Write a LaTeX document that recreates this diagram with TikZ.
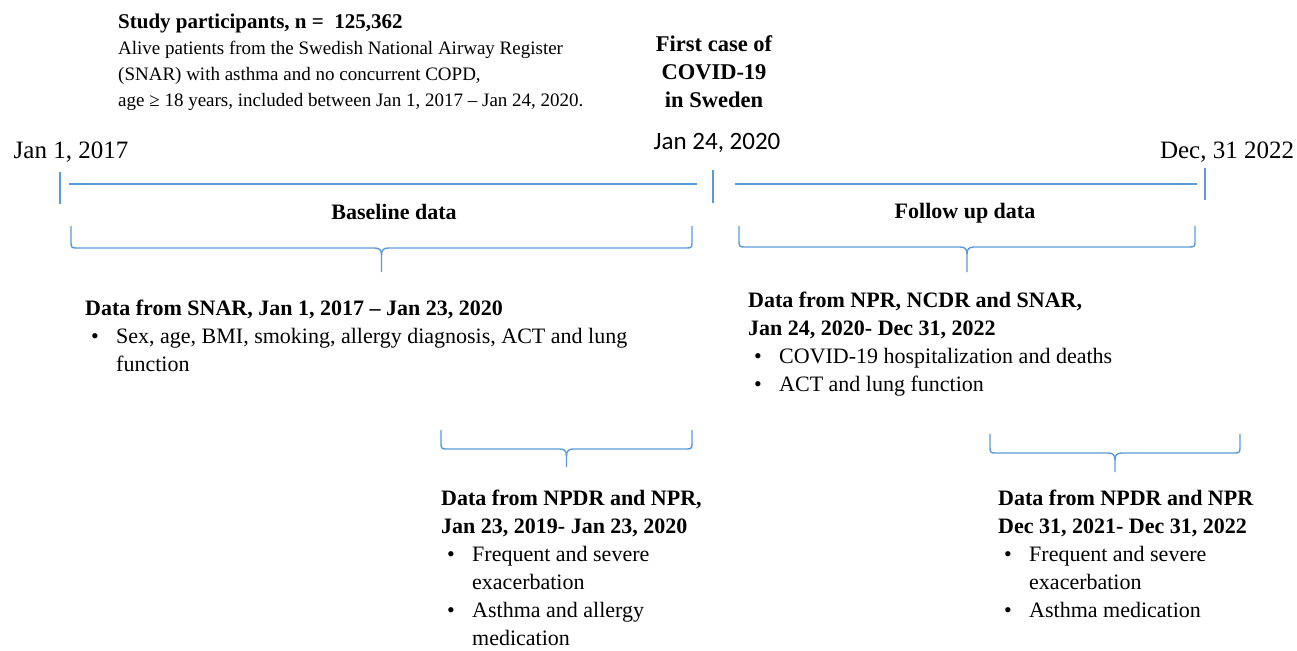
\documentclass[tikz,border=0pt]{standalone}
\usepackage{fontspec}
\setmainfont{Liberation Serif}
\newfontfamily\calibrifont{Carlito}
\usetikzlibrary{positioning}
\definecolor{lineblue}{RGB}{91,155,213}
% brace: left, right, top, bar, tip
\newcommand{\databrace}[5]{%
  \draw[brace] (#1,#3) -- (#1,#4-5) .. controls (#1,#4-1) and (#1+1,#4) .. (#1+5,#4)
    -- ({(#1+#2)/2-7},#4) .. controls ({(#1+#2)/2-2},#4) and ({(#1+#2)/2},#4+2) .. ({(#1+#2)/2},#4+7)
    -- ({(#1+#2)/2},#5);
  \draw[brace] (#2,#3) -- (#2,#4-5) .. controls (#2,#4-1) and (#2-1,#4) .. (#2-5,#4)
    -- ({(#1+#2)/2+7},#4) .. controls ({(#1+#2)/2+2},#4) and ({(#1+#2)/2},#4+2) .. ({(#1+#2)/2},#4+7);}
\newcommand{\itembul}{\hspace*{6pt}\makebox[25pt][l]{\textbullet}}
\newcommand{\itemcont}{\hspace*{31pt}}

\begin{document}
\begin{tikzpicture}[x=1pt,y=-1pt,
  brace/.style={draw=lineblue,line width=1.4pt},
  tick/.style={draw=lineblue,line width=1.4pt},
  txt/.style={anchor=north west,inner sep=0pt,align=left,font=\fontsize{22}{28}\selectfont},
  datelbl/.style={inner sep=0pt,font=\fontsize{25}{28}\selectfont},
  phase/.style={inner sep=0pt,font=\fontsize{22}{28}\selectfont\bfseries}]
  \useasboundingbox (0,0) rectangle (1297,650);

  % study population
  \node[anchor=north west,inner sep=0pt,font=\fontsize{21}{26}\selectfont\bfseries] (study) at (118,14)
    {Study participants, n =~~125,362};
  \node[anchor=north west,inner sep=0pt,align=left,font=\fontsize{19}{26}\selectfont] (studydesc) at (118,41)
    {Alive patients from the Swedish National Airway Register\\
     (SNAR) with asthma and no concurrent COPD,\\
     age ≥ 18 years, included between Jan 1, 2017 – Jan 24, 2020.};
  \node[anchor=north,inner sep=0pt,align=center,font=\fontsize{22.5}{28}\selectfont\bfseries] (firstcase) at (714,35)
    {First case of\\COVID-19\\in Sweden};

  % timeline
  \node[datelbl] (dstart) at (71,152) {Jan 1, 2017};
  \node[inner sep=0pt,font=\fontsize{25}{28}\selectfont\calibrifont] (dcovid) at (717,143) {Jan 24, 2020};
  \node[datelbl] (dend) at (1227,152) {Dec, 31 2022};
  \coordinate (startA) at (60,172);  \coordinate (startB) at (60,204);
  \coordinate (covidA) at (713,170); \coordinate (covidB) at (713,203);
  \coordinate (endA) at (1205,168);  \coordinate (endB) at (1205,200);
  \coordinate (baseL) at (69,184);   \coordinate (baseR) at (697,184);
  \coordinate (follL) at (735,184);  \coordinate (follR) at (1197,184);
  \draw[tick] (startA) -- (startB);
  \draw[tick] (covidA) -- (covidB);
  \draw[tick] (endA) -- (endB);
  \draw[tick] (baseL) -- (baseR);
  \draw[tick] (follL) -- (follR);

  \node[phase] (baseline) at (394,212) {Baseline data};
  \node[phase] (followup) at (965,213) {Follow up data};

  \databrace{71}{692}{226}{248}{272}
  \databrace{739}{1195}{226}{247}{272}
  \databrace{441}{692}{430}{449}{467}
  \databrace{990}{1240}{434}{453}{472}

  % data sources
  \node[txt] (snar) at (85,300)
    {\textbf{Data from SNAR, Jan 1, 2017 – Jan 23, 2020}\\
     \itembul Sex, age, BMI, smoking, allergy diagnosis, ACT and lung\\
     \itemcont function};
  \node[txt] (npr) at (748,292)
    {\textbf{Data from NPR, NCDR and SNAR,}\\
     \textbf{Jan 24, 2020- Dec 31, 2022}\\
     \itembul COVID-19 hospitalization and deaths\\
     \itembul ACT and lung function};
  \node[txt] (npdrbase) at (441,490)
    {\textbf{Data from NPDR and NPR,}\\
     \textbf{Jan 23, 2019- Jan 23, 2020}\\
     \itembul Frequent and severe\\
     \itemcont exacerbation\\
     \itembul Asthma and allergy\\
     \itemcont medication};
  \node[txt] (npdrfoll) at (998,490)
    {\textbf{Data from NPDR and NPR}\\
     \textbf{Dec 31, 2021- Dec 31, 2022}\\
     \itembul Frequent and severe\\
     \itemcont exacerbation\\
     \itembul Asthma medication};
\end{tikzpicture}
\end{document}
